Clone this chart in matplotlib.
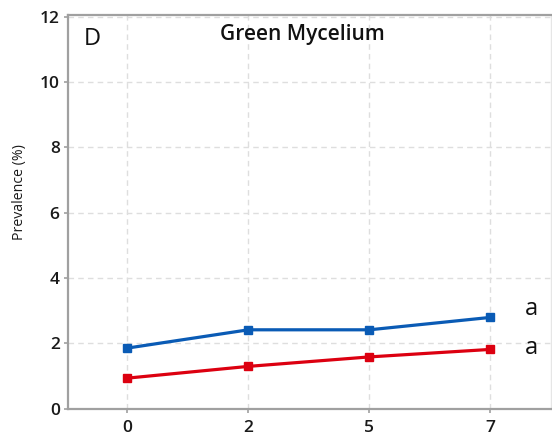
import matplotlib
matplotlib.use("Agg")
import matplotlib.pyplot as plt

# Days of storage (categorical x axis)
days = ["0", "2", "5", "7"]
# Prevalence of green mycelium (%) for the two treatments
prev_blue = [1.85, 2.41, 2.41, 2.79]
prev_red = [0.93, 1.29, 1.58, 1.81]
# Significance letters shown next to the last point of each series
letters = ["a", "a"]

plt.rcParams["font.family"] = ["Open Sans", "DejaVu Sans"]

fig = plt.figure(figsize=(5.52, 4.37), dpi=100)
ax = fig.add_axes([0.1232, 0.0652, 0.8750, 0.9005])

x = list(range(len(days)))
blue = "#0a5bb5"
red = "#dc0010"
ax.plot(x, prev_blue, color=blue, lw=2.3, marker="s", ms=5.5, zorder=3)
ax.plot(x, prev_red, color=red, lw=2.3, marker="s", ms=5.5, zorder=3)

ax.set_xlim(-0.49, 3.5)
ax.set_ylim(0, 12.05)
ax.set_xticks(x)
ax.set_xticklabels(days)
ax.set_yticks(range(0, 13, 2))

ax.grid(True, color="#dedede", ls=(0, (4, 3)), lw=1.0)
ax.set_axisbelow(True)

for side in ("left", "bottom", "top"):
    ax.spines[side].set_color("#a0a0a0")
    ax.spines[side].set_linewidth(1.6)
ax.spines["right"].set_color("#e6e6e6")
ax.spines["right"].set_linewidth(1.0)

ax.tick_params(axis="both", length=3, width=1.2, color="#a0a0a0",
               labelsize=12.5, labelcolor="#1a1a1a")
ax.tick_params(axis="x", pad=5)
ax.tick_params(axis="y", pad=3)
for lab in ax.get_yticklabels() + ax.get_xticklabels():
    lab.set_fontweight("semibold")

ax.set_ylabel("Prevalence (%)", fontsize=10.2, color="#1a1a1a",
              fontweight="medium")
ax.yaxis.set_label_coords(-0.084, 0.551)

ax.text(0.485, 0.95, "Green Mycelium", transform=ax.transAxes, ha="center",
        va="center", fontsize=15, fontweight="semibold", color="#111111")
ax.text(0.033, 0.94, "D", transform=ax.transAxes, ha="left", va="center",
        fontsize=17, color="#111111")

last = len(days) - 1
ax.annotate(letters[0], (last, prev_blue[-1]), xytext=(25, 6),
            textcoords="offset points", ha="left", va="center",
            fontsize=17, color="#111111")
ax.annotate(letters[1], (last, prev_red[-1]), xytext=(25, 1),
            textcoords="offset points", ha="left", va="center",
            fontsize=17, color="#111111")

fig.savefig("out.png", dpi=100)
